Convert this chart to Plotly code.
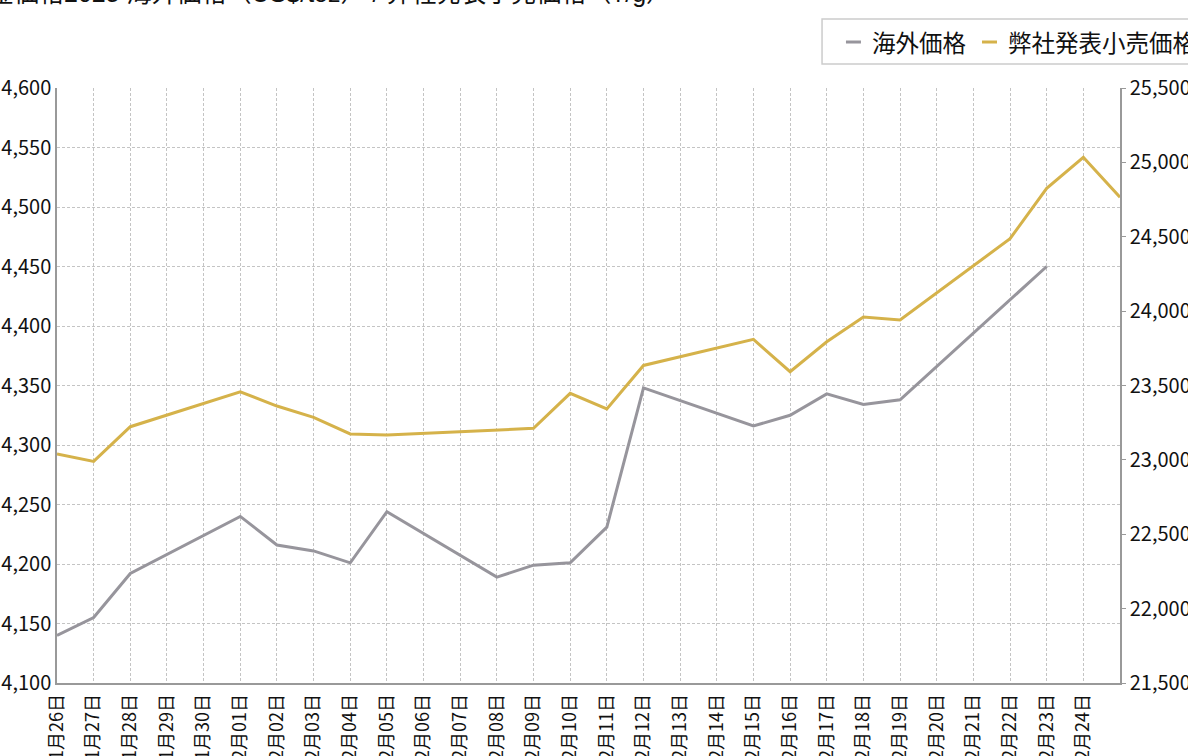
import plotly.graph_objects as go

# categories (x axis)
dates = ["1月26日", "1月27日", "1月28日", "1月29日", "1月30日",
         "2月01日", "2月02日", "2月03日", "2月04日", "2月05日", "2月06日", "2月07日",
         "2月08日", "2月09日", "2月10日", "2月11日", "2月12日", "2月13日", "2月14日",
         "2月15日", "2月16日", "2月17日", "2月18日", "2月19日", "2月20日", "2月21日",
         "2月22日", "2月23日", "2月24日", "2月25日"]
tick_dates = dates[:-1]

# 海外価格 (US$/toz)
overseas = [4140, 4155, 4192, None, None,
            4240, 4216, 4211, 4201, 4244, None, None,
            4189, 4199, 4201, 4231, 4348, None, None,
            4316, 4325, 4343, 4334, 4338, None, None,
            None, 4450, None, None]

# 弊社発表小売価格 (円/g)
retail = [23040, 22990, 23223, None, None,
          23458, 23362, 23286, 23174, 23167, None, None,
          None, 23212, 23447, 23342, 23635, None, None,
          23810, 23593, 23794, 23960, 23940, None, None,
          24487, 24826, 25034, 24765]

GRAY = "#97959c"
GOLD = "#d5b24a"
tickfont = dict(family="Noto Sans CJK JP", size=20, color="#111")

fig = go.Figure()
fig.add_trace(go.Scatter(x=dates, y=overseas, name="海外価格", mode="lines",
                         line=dict(color=GRAY, width=3), connectgaps=True, showlegend=False))
fig.add_trace(go.Scatter(x=dates, y=retail, name="弊社発表小売価格", mode="lines", yaxis="y2",
                         line=dict(color=GOLD, width=3), connectgaps=True, showlegend=False))

fig.update_layout(
    width=1188, height=756,
    paper_bgcolor="white", plot_bgcolor="white",
    margin=dict(l=57, r=68, t=88, b=73, autoexpand=False),
    xaxis=dict(type="category", range=[0, 29], tickmode="array", tickvals=tick_dates,
               tickangle=-90, tickfont=dict(family="Noto Sans CJK JP", size=18, color="#111"),
               showgrid=True, gridcolor="#c4c4c4",
               griddash="3px,2px", gridwidth=1, showline=True, linecolor="#999", linewidth=1.5,
               ticks="", ticklabelstandoff=2),
    yaxis=dict(range=[4100, 4600], dtick=50, tickformat=",", tickfont=tickfont,
               showgrid=True, gridcolor="#c4c4c4", griddash="3px,2px", gridwidth=1,
               showline=True, linecolor="#999", linewidth=1.5, ticks="", zeroline=False),
    yaxis2=dict(range=[21500, 25500], dtick=500, tickformat=",", tickfont=tickfont,
                overlaying="y", side="right", showgrid=False, showline=True,
                linecolor="#999", linewidth=1.5, ticks="outside", ticklen=4,
                tickcolor="#999", zeroline=False),
    font=dict(family="Noto Sans CJK JP", color="#111"),
)

# title (partly outside the top of the page)
fig.add_annotation(text="金価格2025 海外価格（US$/toz） / 弊社発表小売価格（¥/g）",
                   xref="paper", yref="paper", x=0.5795, y=1.16, xanchor="right",
                   yanchor="middle", showarrow=False,
                   font=dict(family="Liberation Sans, Noto Sans CJK JP", size=25, color="#111"))

# legend box
fig.add_shape(type="rect", xref="paper", yref="paper", x0=0.7197, x1=1.08, y0=1.0403, y1=1.116,
              line=dict(color="#cccccc", width=1.5), fillcolor="white")
legend_items = [("海外価格", GRAY, 0.7422, 0.7648), ("弊社発表小売価格", GOLD, 0.8702, 0.8928)]
for label, col, lx, tx in legend_items:
    fig.add_shape(type="line", xref="paper", yref="paper", x0=lx, x1=lx + 0.0141,
                  y0=1.0773, y1=1.0773, line=dict(color=col, width=3))
    fig.add_annotation(text=label, xref="paper", yref="paper", x=tx, y=1.0773,
                       xanchor="left", yanchor="middle", showarrow=False,
                       font=dict(family="Noto Sans CJK JP", size=23.5, color="#111"))

fig.write_html("out.html", config={"displayModeBar": False},
               post_script="document.body.style.margin='0px';")
